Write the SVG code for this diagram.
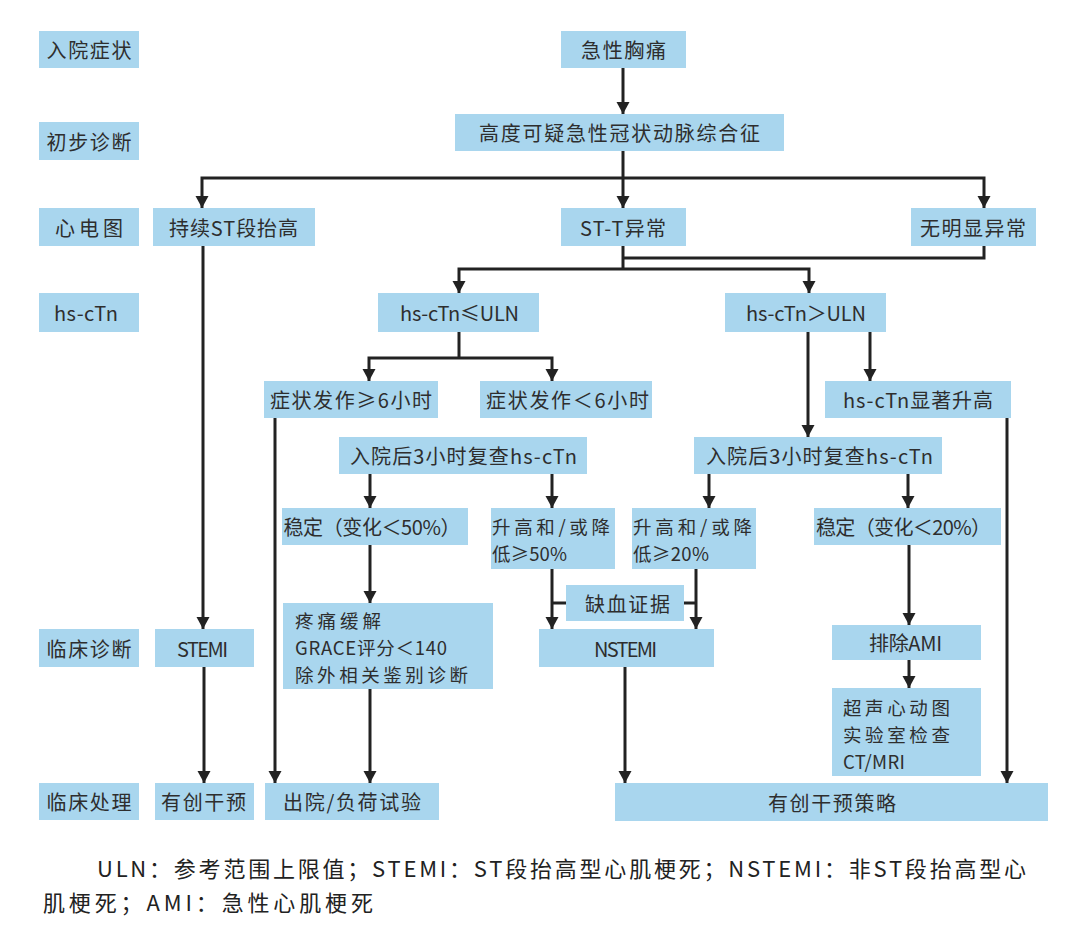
<svg xmlns="http://www.w3.org/2000/svg" width="1080" height="932" viewBox="0 0 1080 932">
<defs>
<style>
.b{fill:#a9d6ee}
.t{font-family:"Noto Sans CJK SC","Noto Sans",sans-serif;font-size:20px;fill:#2e2e2e;dominant-baseline:central;text-anchor:middle}
.l{text-anchor:start;font-size:18.5px}
.c{fill:none;stroke:#222;stroke-width:3}
.a{marker-end:url(#ah)}
.f{font-family:"Noto Sans CJK SC","Noto Sans",sans-serif;font-size:22px;fill:#222;dominant-baseline:central}
</style>
<marker id="ah" markerUnits="userSpaceOnUse" markerWidth="14" markerHeight="14" refX="12" refY="6.5" orient="auto">
<path d="M0,0 L12,6.5 L0,13 z" fill="#222"/>
</marker>
</defs>
<rect width="1080" height="932" fill="#fff"/>

<g id="connectors">
<path class="c a" d="M623,68 V114"/>
<path class="c a" d="M623,151 V208"/>
<path class="c a" d="M623,178 H202 V208"/>
<path class="c a" d="M623,178 H984 V208"/>
<path class="c a" d="M203,246 V629"/>
<path class="c" d="M623,246 V269"/>
<path class="c" d="M984,246 V258 H623"/>
<path class="c a" d="M623,269 H459 V293"/>
<path class="c a" d="M623,269 H809 V293"/>
<path class="c" d="M459,332 V358"/>
<path class="c a" d="M459,358 H369 V381"/>
<path class="c a" d="M459,358 H552 V381"/>
<path class="c a" d="M275,418 V783"/>
<path class="c a" d="M370,474 V508"/>
<path class="c a" d="M552,474 V508"/>
<path class="c a" d="M370,545 V603"/>
<path class="c a" d="M370,689 V783"/>
<path class="c a" d="M552,569 V629"/>
<path class="c a" d="M696,569 V629"/>
<path class="c" d="M552,603 H566"/>
<path class="c" d="M684,603 H696"/>
<path class="c a" d="M625,667 V783"/>
<path class="c a" d="M808,332 V437"/>
<path class="c a" d="M870,332 V381"/>
<path class="c a" d="M1007,418 V783"/>
<path class="c a" d="M709,474 V508"/>
<path class="c a" d="M908,474 V508"/>
<path class="c a" d="M909,545 V625"/>
<path class="c a" d="M909,660 V688"/>
<path class="c a" d="M204,667 V783"/>
</g>

<g id="label-ruyuan"><rect class="b" x="39" y="31" width="100" height="37"/><text class="t" x="89" y="49.5" textLength="85" lengthAdjust="spacing">入院症状</text></g>
<g id="label-chubu"><rect class="b" x="39" y="122" width="100" height="38"/><text class="t" x="89" y="141" textLength="85" lengthAdjust="spacing">初步诊断</text></g>
<g id="label-ecg"><rect class="b" x="39" y="208" width="100" height="38"/><text class="t" x="89" y="227" textLength="68" lengthAdjust="spacing">心电图</text></g>
<g id="label-hs"><rect class="b" x="39" y="293" width="100" height="39"/><text class="t" x="86" y="312.5" textLength="64" lengthAdjust="spacing">hs-cTn</text></g>
<g id="label-zhenduan"><rect class="b" x="39" y="629" width="100" height="38"/><text class="t" x="89" y="648" textLength="85" lengthAdjust="spacing">临床诊断</text></g>
<g id="label-chuli"><rect class="b" x="39" y="783" width="100" height="37"/><text class="t" x="89" y="801.5" textLength="85" lengthAdjust="spacing">临床处理</text></g>

<g id="n-xiongtong"><rect class="b" x="561" y="31" width="125" height="37"/><text class="t" x="623.5" y="49.5" textLength="85" lengthAdjust="spacing">急性胸痛</text></g>
<g id="n-acs"><rect class="b" x="455" y="114" width="329" height="37"/><text class="t" x="619.5" y="132.5" textLength="281" lengthAdjust="spacing">高度可疑急性冠状动脉综合征</text></g>
<g id="n-stemi-ecg"><rect class="b" x="153" y="208" width="162" height="38"/><text class="t" x="233.5" y="227" textLength="129" lengthAdjust="spacing">持续ST段抬高</text></g>
<g id="n-stt"><rect class="b" x="561" y="208" width="125" height="38"/><text class="t" x="623" y="227" textLength="86" lengthAdjust="spacing">ST-T异常</text></g>
<g id="n-normal"><rect class="b" x="911" y="208" width="125" height="38"/><text class="t" x="973" y="227" textLength="106" lengthAdjust="spacing">无明显异常</text></g>
<g id="n-le-uln"><rect class="b" x="378" y="293" width="161" height="39"/><text class="t" x="459.5" y="312.5" textLength="119" lengthAdjust="spacing">hs-cTn≤ULN</text></g>
<g id="n-gt-uln"><rect class="b" x="725" y="293" width="161" height="39"/><text class="t" x="806" y="312.5" textLength="120" lengthAdjust="spacing">hs-cTn＞ULN</text></g>
<g id="n-ge6"><rect class="b" x="264" y="381" width="174" height="37"/><text class="t" x="351" y="399.5" textLength="162" lengthAdjust="spacing">症状发作≥6小时</text></g>
<g id="n-lt6"><rect class="b" x="480" y="381" width="172" height="37"/><text class="t" x="567.5" y="399.5" textLength="163" lengthAdjust="spacing">症状发作＜6小时</text></g>
<g id="n-recheck-l"><rect class="b" x="339" y="437" width="248" height="37"/><text class="t" x="463.5" y="455.5" textLength="227" lengthAdjust="spacing">入院后3小时复查hs-cTn</text></g>
<g id="n-elevated"><rect class="b" x="825" y="381" width="186" height="37"/><text class="t" x="918" y="399.5" textLength="150" lengthAdjust="spacing">hs-cTn显著升高</text></g>
<g id="n-recheck-r"><rect class="b" x="694" y="437" width="248" height="37"/><text class="t" x="819.5" y="455.5" textLength="227" lengthAdjust="spacing">入院后3小时复查hs-cTn</text></g>
<g id="n-stable50"><rect class="b" x="282" y="508" width="186" height="37"/><text class="t" x="372" y="526.5" textLength="177" lengthAdjust="spacing">稳定（变化＜50%）</text></g>
<g id="n-change50"><rect class="b" x="491" y="508" width="124" height="61"/><text class="t l" x="492" y="526" textLength="118" lengthAdjust="spacing">升高和/或降</text><text class="t l" x="492" y="553" textLength="75" lengthAdjust="spacing">低≥50%</text></g>
<g id="n-change20"><rect class="b" x="632" y="508" width="124" height="61"/><text class="t l" x="633" y="526" textLength="119" lengthAdjust="spacing">升高和/或降</text><text class="t l" x="633" y="553" textLength="76" lengthAdjust="spacing">低≥20%</text></g>
<g id="n-stable20"><rect class="b" x="814" y="508" width="187" height="37"/><text class="t" x="903.5" y="526.5" textLength="175" lengthAdjust="spacing">稳定（变化＜20%）</text></g>
<g id="n-ischemia"><rect class="b" x="566" y="585" width="118" height="36"/><text class="t" x="627.5" y="603" textLength="85" lengthAdjust="spacing">缺血证据</text></g>
<g id="n-relief"><rect class="b" x="283" y="603" width="210" height="86"/><text class="t l" x="295" y="620" textLength="86" lengthAdjust="spacing">疼痛缓解</text><text class="t l" x="295" y="647" textLength="152" lengthAdjust="spacing">GRACE评分＜140</text><text class="t l" x="295" y="674" textLength="173" lengthAdjust="spacing">除外相关鉴别诊断</text></g>
<g id="n-stemi"><rect class="b" x="155" y="629" width="99" height="38"/><text class="t" x="202.5" y="648" textLength="51" lengthAdjust="spacing">STEMI</text></g>
<g id="n-nstemi"><rect class="b" x="539" y="629" width="175" height="38"/><text class="t" x="625.5" y="648" textLength="63" lengthAdjust="spacing">NSTEMI</text></g>
<g id="n-exclude"><rect class="b" x="832" y="625" width="149" height="35"/><text class="t" x="905.5" y="642.5" textLength="73" lengthAdjust="spacing">排除AMI</text></g>
<g id="n-tests"><rect class="b" x="832" y="688" width="149" height="88"/><text class="t l" x="843" y="707" textLength="107" lengthAdjust="spacing">超声心动图</text><text class="t l" x="843" y="734" textLength="107" lengthAdjust="spacing">实验室检查</text><text class="t l" x="843" y="761" textLength="62" lengthAdjust="spacing">CT/MRI</text></g>
<g id="n-invasive"><rect class="b" x="155" y="783" width="99" height="37"/><text class="t" x="203.5" y="801.5" textLength="85" lengthAdjust="spacing">有创干预</text></g>
<g id="n-discharge"><rect class="b" x="265" y="783" width="174" height="37"/><text class="t" x="352" y="801.5" textLength="138" lengthAdjust="spacing">出院/负荷试验</text></g>
<g id="n-strategy"><rect class="b" x="615" y="783" width="433" height="38"/><text class="t" x="832" y="802" textLength="128" lengthAdjust="spacing">有创干预策略</text></g>

<g id="footnote">
<text class="f" x="97" y="867" textLength="929" lengthAdjust="spacing">ULN：参考范围上限值；STEMI：ST段抬高型心肌梗死；NSTEMI：非ST段抬高型心</text>
<text class="f" x="43" y="901" textLength="330" lengthAdjust="spacing">肌梗死；AMI：急性心肌梗死</text>
</g>
</svg>
